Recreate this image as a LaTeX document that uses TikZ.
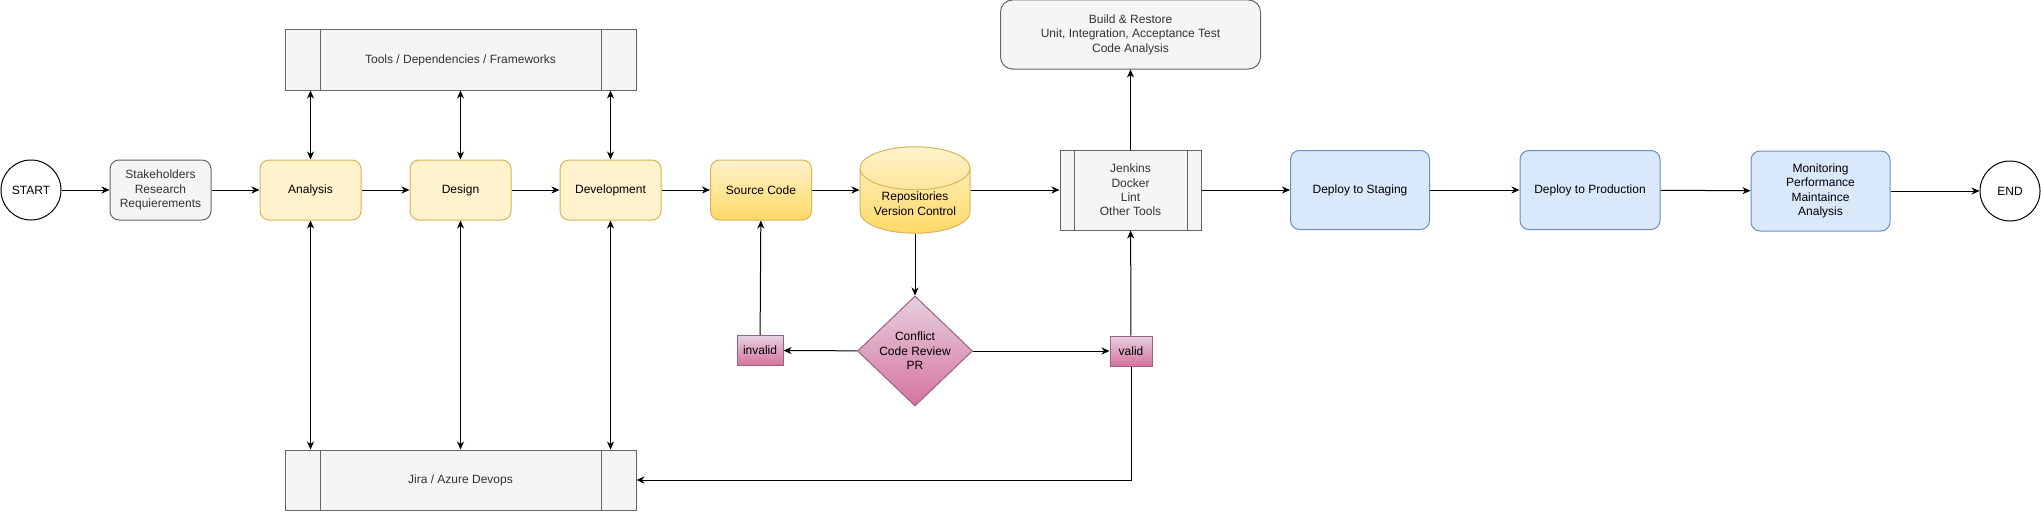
\documentclass[tikz,border=0pt]{standalone}
\usepackage{fontspec}
\setmainfont{Liberation Sans}
\usetikzlibrary{
    shapes.geometric,
    arrows.meta,
    positioning,
    calc
}
\definecolor{bgWhite}{RGB}{255, 255, 255}
\definecolor{textBlack}{RGB}{0, 0, 0}
\definecolor{textDark}{RGB}{51, 51, 51}
\definecolor{greyFill}{RGB}{245, 245, 245}
\definecolor{greyLine}{RGB}{102, 102, 102}
\definecolor{yellowFill}{RGB}{255, 242, 204}
\definecolor{yellowDeep}{RGB}{255, 217, 102}
\definecolor{yellowLine}{RGB}{214, 182, 86}
\definecolor{blueFill}{RGB}{218, 232, 252}
\definecolor{blueLine}{RGB}{108, 142, 191}
\definecolor{pinkLight}{RGB}{230, 208, 222}
\definecolor{pinkDeep}{RGB}{213, 115, 157}
\definecolor{pinkLine}{RGB}{153, 97, 133}
\def\picW{2041}
\def\picH{511}
\tikzset{
    baseText/.style={
        font=\fontsize{12pt}{14.4pt}\selectfont,
        align=center,
        inner sep=2pt,
        line width=1pt
    },
    terminal/.style={
        circle,
        baseText,
        draw=textBlack,
        fill=bgWhite,
        minimum size=60pt
    },
    noteBox/.style={
        rectangle,
        rounded corners=9pt,
        baseText,
        draw=greyLine,
        fill=greyFill,
        text=textDark,
        minimum width=101pt,
        minimum height=60pt
    },
    phaseBox/.style={
        noteBox,
        draw=yellowLine,
        fill=yellowFill,
        text=textBlack
    },
    sourceBox/.style={
        noteBox,
        draw=yellowLine,
        top color=yellowFill,
        bottom color=yellowDeep,
        text=textBlack
    },
    deployBox/.style={
        noteBox,
        draw=blueLine,
        fill=blueFill,
        text=textBlack,
        minimum width=139pt,
        minimum height=79pt
    },
    repoDb/.style={
        cylinder,
        shape border rotate=90,
        aspect=0.5,
        baseText,
        minimum width=110pt,
        minimum height=73pt,
        draw=yellowLine,
        top color=yellowFill,
        bottom color=yellowDeep,
        anchor=shape center
    },
    checkDiamond/.style={
        diamond,
        baseText,
        inner sep=0pt,
        minimum width=115pt,
        minimum height=110pt,
        draw=pinkLine,
        top color=pinkLight,
        bottom color=pinkDeep
    },
    flagBox/.style={
        rectangle,
        baseText,
        minimum height=30pt,
        draw=pinkLine,
        top color=pinkLight,
        bottom color=pinkDeep
    },
    % process shape: box with a band on each side
    processBox/.style={
        rectangle,
        baseText,
        draw=greyLine,
        fill=greyFill,
        text=textDark,
        path picture={
            \draw[greyLine, line width=1pt]
                ([xshift=#1]path picture bounding box.north west) --
                ([xshift=#1]path picture bounding box.south west);
            \draw[greyLine, line width=1pt]
                ([xshift=-#1]path picture bounding box.north east) --
                ([xshift=-#1]path picture bounding box.south east);
        }
    },
    processBox/.default=35pt,
    connector/.style={
        draw=textBlack,
        line width=1pt,
        -{Stealth[length=8pt, width=7pt, inset=2.5pt]}
    },
    dblConnector/.style={
        connector,
        {Stealth[length=8pt, width=7pt, inset=2.5pt]}-{Stealth[length=8pt, width=7pt, inset=2.5pt]}
    }
}

\begin{document}
\begin{tikzpicture}[x=1pt, y=-1pt]
    \useasboundingbox (0,0) rectangle (\picW, \picH);
    \fill[bgWhite] (0,0) rectangle (\picW, \picH);

    % Main line
    \node[terminal] (start) at (31, 190) {START};
    \node[noteBox] (stake) at (160.5, 190) {Stakeholders\\Research\\Requierements};
    \node[phaseBox] (analysis) at (310.5, 190) {Analysis};
    \node[phaseBox] (design) at (460.5, 190) {Design};
    \node[phaseBox] (develop) at (610.5, 190) {Development};
    \node[sourceBox] (source) at (761, 190) {Source Code};
    \node[repoDb] (repo) at (915, 190) {Repositories\\Version Control};
    \node[processBox=14pt, minimum width=141pt, minimum height=80pt] (jenkins) at (1130.5, 190) {Jenkins\\Docker\\Lint\\Other Tools};
    \node[deployBox] (staging) at (1360, 190) {Deploy to Staging};
    \node[deployBox, minimum width=140pt] (production) at (1590, 190) {Deploy to Production};
    \node[deployBox, minimum height=80pt] (monitor) at (1820.5, 191) {Monitoring\\Performance\\Maintaince\\Analysis};
    \node[terminal] (finish) at (2010, 191) {END};

    % Side boxes
    \node[processBox, minimum width=351pt, minimum height=60pt] (tools) at (460.5, 60) {Tools / Dependencies / Frameworks};
    \node[processBox, minimum width=351pt, minimum height=60pt] (jira) at (460.5, 480) {Jira / Azure Devops};
    \node[noteBox, rounded corners=12pt, minimum width=260pt, minimum height=69pt] (build) at (1130.5, 34.5) {Build \& Restore\\Unit, Integration, Acceptance Test\\Code Analysis};

    % Review
    \node[checkDiamond] (review) at (915, 351) {Conflict\\Code Review\\PR};
    \node[flagBox, minimum width=46pt] (invalid) at (760, 350.5) {invalid};
    \node[flagBox, minimum width=42pt] (valid) at (1131, 351) {valid};

    % Edges
    \draw[connector] (start) -- (stake);
    \draw[connector] (stake) -- (analysis);
    \draw[connector] (analysis) -- (design);
    \draw[connector] (design) -- (develop);
    \draw[connector] (develop) -- (source);
    \draw[connector] (source) -- (source -| repo.west);
    \draw[connector] (jenkins -| repo.east) -- (jenkins);
    \draw[connector] (jenkins) -- (staging);
    \draw[connector] (staging) -- (production);
    \draw[connector] (production) -- (monitor);
    \draw[connector] (monitor) -- (finish);

    \foreach \phase in {analysis, design, develop} {
        \draw[dblConnector] (\phase |- tools.south) -- (\phase.north);
        \draw[dblConnector] (\phase.south) -- (\phase |- jira.north);
    }

    \draw[connector] (repo.south) -- (review);
    \draw[connector] (review) -- (invalid);
    \draw[connector] (invalid) -- (source);
    \draw[connector] (review) -- (valid);
    \draw[connector] (valid) -- (jenkins);
    \draw[connector] (valid) |- (jira);
    \draw[connector] (jenkins) -- (build);
\end{tikzpicture}
\end{document}
